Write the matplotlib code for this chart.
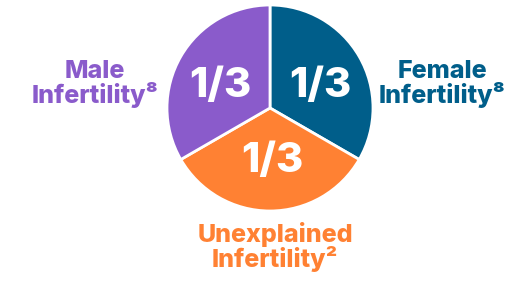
import matplotlib.pyplot as plt

# Data
categories = ["Female\nInfertility\u2078", "Unexplained\nInfertility\u00b2", "Male\nInfertility\u2078"]
shares = [1, 1, 1]
share_labels = ["1/3", "1/3", "1/3"]
colors = ["#005E8A", "#FF8133", "#8A5BCB"]

plt.rcParams['font.family'] = ['Inter', 'DejaVu Sans']

fig = plt.figure(figsize=(5.31, 3.0), dpi=100)
ax = fig.add_axes([0, 0, 1, 1])
ax.set_xlim(0, 531)
ax.set_ylim(0, 300)
ax.set_aspect('equal')
ax.axis('off')

# pie in pixel coords (y flipped: 300 - y)
cx, cy, r = 270, 300 - 108, 103
wedges, _ = ax.pie(shares, colors=colors, startangle=90, counterclock=False,
                   center=(cx, cy), radius=r,
                   wedgeprops=dict(edgecolor='white', linewidth=2))
ax.set_xlim(0, 531)
ax.set_ylim(0, 300)

# value labels inside slices
inner_pos = [(320, 300 - 86), (272, 300 - 161), (220, 300 - 86)]
for (x, y), txt in zip(inner_pos, share_labels):
    ax.text(x, y, txt, color='white', fontsize=30, fontweight='heavy',
            ha='center', va='center')

# outer category labels
outer_pos = [(442, 300 - 84), (275, 300 - 247), (95, 300 - 84)]
for (x, y), txt, c in zip(outer_pos, categories, colors):
    ax.text(x, y, txt, color=c, fontsize=18, fontweight='heavy',
            ha='center', va='center', linespacing=0.98)

fig.savefig("out.png", dpi=100)
